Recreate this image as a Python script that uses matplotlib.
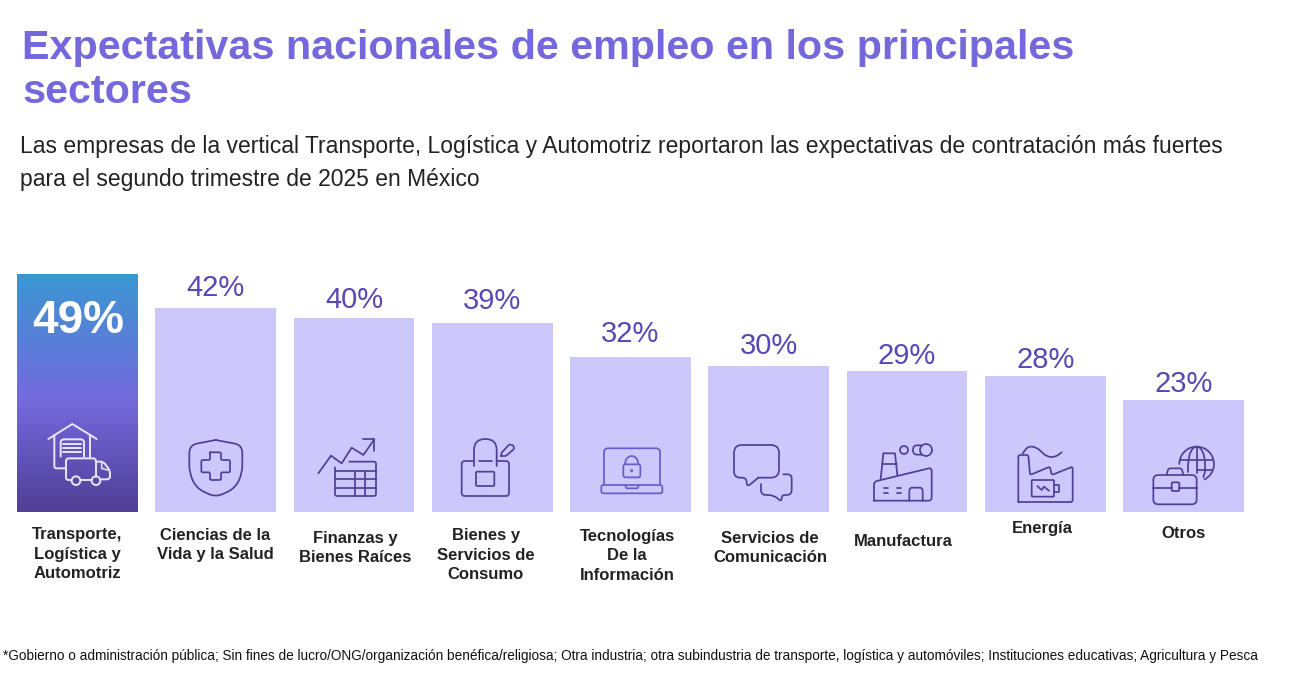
import matplotlib
matplotlib.use('Agg')
import matplotlib.pyplot as plt
import numpy as np
from matplotlib.colors import LinearSegmentedColormap
from matplotlib.patches import Arc, Circle, FancyBboxPatch, PathPatch
from matplotlib.path import Path

plt.rcParams['font.family'] = ['Liberation Sans', 'DejaVu Sans']

# values
categories = ['Transporte,\nLogística y\nAutomotriz', 'Ciencias de la\nVida y la Salud',
              'Finanzas y\nBienes Raíces', 'Bienes y\nServicios de\nConsumo',
              'Tecnologías\nDe la\nInformación', 'Servicios de\nComunicación',
              'Manufactura', 'Energía', 'Otros']
values = [49, 42, 40, 39, 32, 30, 29, 28, 23]

title = 'Expectativas nacionales de empleo en los principales\nsectores'
subtitle = ('Las empresas de la vertical Transporte, Logística y Automotriz reportaron las expectativas de contratación más fuertes\n'
            'para el segundo trimestre de 2025 en México')
footnote = ('*Gobierno o administración pública; Sin fines de lucro/ONG/organización benéfica/religiosa; Otra industria; '
            'otra subindustria de transporte, logística y automóviles; Instituciones educativas; Agricultura y Pesca')

W, H = 1303, 675
PURPLE = '#7468dc'
LIGHT = '#cdc8fb'
DARK = '#4f3f98'
VALUE = '#5a47b4'
LW = 1.25

fig = plt.figure(figsize=(W / 100, H / 100), dpi=100, facecolor='white')

# bars: baseline at y=512, 49 reaches y=274
left, right, base, top = 17, 1244, 512, 274
ax = fig.add_axes([left / W, 1 - base / H, (right - left) / W, (base - top) / H])
bars = ax.bar(range(len(values)), values, width=0.875, color=LIGHT, linewidth=0)
ax.axis('off')

# first bar has a vertical gradient
grad = LinearSegmentedColormap.from_list('g', [(0, '#3a97d2'), (0.53, '#7669dd'), (1, '#4f3f96')])
bars[0].set_facecolor('none')
ax.imshow(np.linspace(0, 1, 256).reshape(-1, 1), cmap=grad, aspect='auto', zorder=2,
          extent=[bars[0].get_x(), bars[0].get_x() + bars[0].get_width(), 0, values[0]])
ax.set_xlim(-0.4375, len(values) - 1 + 0.4375)
ax.set_ylim(0, 49)

ax.annotate(f'{values[0]}%', (0, values[0]), xytext=(1, -47), textcoords='offset pixels', ha='center',
            va='center', color='white', fontsize=33, fontweight='bold', zorder=3)
# the gap above each bar is not constant in the original
value_gap = [0, 6, 4, 8, 9, 6, 1, 2, 2]
for i, v in enumerate(values):
    if i == 0:
        continue
    ax.annotate(f'{v}%', (i, v), xytext=(0, value_gap[i]), textcoords='offset pixels', ha='center', va='bottom',
                color=VALUE, fontsize=21, annotation_clip=False)

# overlay in picture pixels for the text and icons
ov = fig.add_axes([0, 0, 1, 1], zorder=5)
ov.set_xlim(0, W)
ov.set_ylim(H, 0)
ov.axis('off')
ov.patch.set_alpha(0)

ov.text(22, 70, title, fontsize=29.7, fontweight='bold', color=PURPLE, va='center', ha='left', linespacing=1.21)
ov.text(19.5, 163, subtitle, fontsize=16.5, color='#222222', va='center', ha='left', linespacing=1.58)
ov.text(3, 656, footnote, fontsize=9.8, color='#111111', va='center', ha='left')

label_x = [77, 215, 355.5, 486, 627, 770, 903, 1042, 1184]
label_y = [554, 545, 548, 555, 556, 548, 541, 529, 533]
for name, x, y in zip(categories, label_x, label_y):
    ov.text(x, y, name, fontsize=12, fontweight='bold', color='#222222', ha='center', va='center', linespacing=1.36)


# icon helpers, points given in zoomed coordinates (3x) from an offset
def mapper(ox, oy):
    return lambda x, y: (ox + x / 3, oy + y / 3)


def line(m, pts, color=DARK, lw=LW, r=0):
    # polyline, corners rounded with radius r (picture pixels)
    xy = np.array([m(*p) for p in pts], dtype=float)
    verts = [xy[0]]
    codes = [Path.MOVETO]
    for i in range(1, len(xy) - 1):
        a, b, c = xy[i - 1], xy[i], xy[i + 1]
        d1 = np.linalg.norm(a - b)
        d2 = np.linalg.norm(c - b)
        k = min(r, d1 / 2, d2 / 2)
        if k <= 0:
            verts.append(b)
            codes.append(Path.LINETO)
            continue
        verts += [b + (a - b) / d1 * k, b, b + (c - b) / d2 * k]
        codes += [Path.LINETO, Path.CURVE3, Path.CURVE3]
    verts.append(xy[-1])
    codes.append(Path.LINETO)
    ov.add_patch(PathPatch(Path(verts, codes), fc='none', ec=color, lw=lw, capstyle='round', joinstyle='round'))


def rrect(m, x0, y0, x1, y1, r=6, color=DARK, lw=LW):
    ax0, ay0 = m(x0, y0)
    ax1, ay1 = m(x1, y1)
    ov.add_patch(FancyBboxPatch((ax0 + r / 3, ay0 + r / 3), ax1 - ax0 - 2 * r / 3, ay1 - ay0 - 2 * r / 3,
                                boxstyle=f'round,pad={r / 3},rounding_size={r / 3}',
                                fc='none', ec=color, lw=lw))


def circ(m, x, y, r, color=DARK, lw=LW, fc='none'):
    ov.add_patch(Circle(m(x, y), r / 3, fc=fc, ec=color, lw=lw))


# warehouse and truck
m = mapper(0, 260)
c = '#e9e6fb'
line(m, [(145, 537), (217, 492), (290, 537)], c, 1.4)
line(m, [(163, 525), (163, 625), (195, 625)], c, 1.4, r=2)
line(m, [(270, 525), (270, 590)], c, 1.4)
line(m, [(182, 590), (182, 538), (252, 538), (252, 590)], c, 1.4, r=3)
for y in (553, 565, 577):
    line(m, [(190, y), (243, y)], c, 1.4)
line(m, [(213, 660), (198, 660), (198, 595), (288, 595), (288, 650)], c, 1.4, r=3)
line(m, [(243, 660), (272, 660)], c, 1.4)
line(m, [(288, 605), (310, 605), (330, 632), (330, 658), (303, 658)], c, 1.4, r=3)
line(m, [(305, 607), (305, 625), (322, 630)], c, 1.1)
circ(m, 228, 662, 13, c, 1.4)
circ(m, 288, 662, 13, c, 1.4)

# shield
line(m, [(647, 540), (568, 555), (568, 640), (590, 685), (647, 712), (705, 685), (727, 640), (727, 555), (647, 540)], r=8)
line(m, [(630, 577), (663, 577), (663, 600), (690, 600), (690, 637), (663, 637), (663, 660), (630, 660),
         (630, 637), (604, 637), (604, 600), (630, 600), (630, 577)], r=1.5)

# chart arrow and table
line(m, [(955, 640), (993, 587), (1025, 610), (1055, 563), (1090, 585), (1123, 538)])
line(m, [(1090, 538), (1123, 538), (1123, 572)])
line(m, [(1048, 605), (1128, 605), (1128, 708), (1005, 708), (1005, 622)], r=2)
line(m, [(1005, 632), (1128, 632)])
line(m, [(1005, 658), (1128, 658)])
line(m, [(1005, 683), (1128, 683)])
line(m, [(1065, 632), (1065, 708)])
line(m, [(1095, 632), (1095, 708)])

# bag
m = mapper(430, 420)
line(m, [(130, 123), (95, 123), (95, 228), (237, 228), (237, 123), (200, 123)], r=3)
line(m, [(132, 138), (132, 57), (200, 57), (200, 138)], r=11)
line(m, [(147, 123), (185, 123)])
rrect(m, 138, 155, 193, 198, 4)
line(m, [(213, 108), (215, 98), (238, 73), (250, 76), (253, 86), (228, 108), (213, 108)], r=1.5)

# laptop with lock
c = '#6a5cc6'
line(m, [(522, 195), (522, 85), (690, 85), (690, 195)], c, r=4)
rrect(m, 514, 195, 697, 220, 6, c)
line(m, [(585, 195), (590, 205), (622, 205), (627, 195)], c)
rrect(m, 580, 133, 631, 172, 6, c)
ov.add_patch(Arc(m(605, 133), 40 / 3, 50 / 3, theta1=180, theta2=360, ec=c, lw=LW))
circ(m, 605, 152, 2, c, LW, c)

# speech bubbles
line(m, [(985, 173), (950, 202), (950, 173), (912, 173), (912, 75), (1047, 75), (1047, 173), (985, 173)], r=8)
line(m, [(1060, 163), (1085, 163), (1085, 225), (1055, 225), (1055, 245), (1030, 225), (993, 225), (993, 192)], r=5)

# factory
m = mapper(850, 420)
line(m, [(72, 242), (72, 185), (245, 143), (245, 242), (72, 242)], r=3)
line(m, [(92, 178), (100, 100), (135, 100), (142, 165)])
line(m, [(95, 133), (140, 133)])
line(m, [(178, 242), (178, 203), (218, 203), (218, 242)], r=3)
for x0, x1 in ((103, 113), (142, 152)):
    for y in (203, 218):
        line(m, [(x0, y), (x1, y)])
circ(m, 162, 90, 12)
line(m, [(215, 76), (189, 76), (189, 104), (215, 104)], r=5)
circ(m, 228, 90, 18)

# factory with battery
line(m, [(505, 245), (505, 105), (535, 105), (540, 165), (600, 140), (605, 165), (668, 140), (668, 246), (505, 246)], r=2)
line(m, [(518, 100), (535, 78), (560, 82), (590, 110), (615, 112), (635, 97)], r=9)
rrect(m, 545, 180, 612, 230, 3)
line(m, [(612, 195), (626, 195), (626, 215), (612, 215)])
line(m, [(562, 198), (575, 210), (582, 200), (597, 212)])

# briefcase and globe
rrect(m, 910, 165, 1040, 253, 15)
line(m, [(950, 165), (955, 145), (995, 145), (1000, 165)], r=2)
line(m, [(910, 205), (965, 205)])
line(m, [(988, 205), (1040, 205)])
rrect(m, 965, 187, 988, 213, 4)
gx, gy = m(1040, 132)
ov.add_patch(Arc((gx, gy), 104 / 3, 104 / 3, theta1=178, theta2=65, ec=DARK, lw=LW))
ov.add_patch(Arc((gx, gy), 50 / 3, 104 / 3, theta1=180, theta2=360, ec=DARK, lw=LW))
line(m, [(1040, 80), (1040, 160)])
line(m, [(990, 120), (1090, 120)])
line(m, [(1040, 150), (1085, 150)])
line(m, [(1015, 132), (1015, 155)])
line(m, [(1065, 132), (1065, 155), (1060, 172)])

fig.savefig('out.png', dpi=100)
